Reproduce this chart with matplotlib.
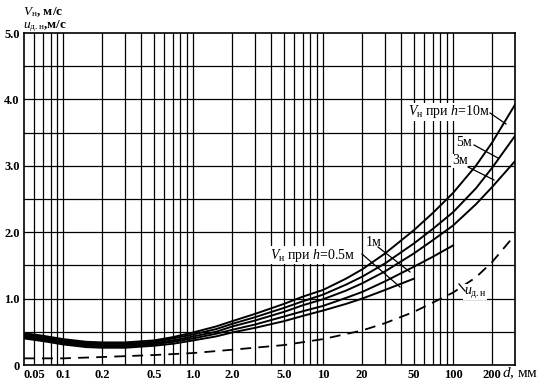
import matplotlib
matplotlib.use('Agg')
import matplotlib.pyplot as plt
import numpy as np

plt.rcParams['font.family'] = ['Liberation Serif', 'DejaVu Serif']
plt.rcParams['mathtext.fontset'] = 'custom'
plt.rcParams['mathtext.rm'] = 'Liberation Serif'
plt.rcParams['mathtext.it'] = 'Liberation Serif:italic'

# grain size d, mm
d = [0.05, 0.07, 0.1, 0.15, 0.2, 0.3, 0.5, 0.7, 1, 1.5, 2, 3, 5, 7, 10, 15, 20, 30, 50, 70, 100, 150, 200, 300]

# non-scouring velocity V_н for depths h
v_h10 = [0.48, 0.44, 0.39, 0.35, 0.34, 0.34, 0.37, 0.42, 0.49, 0.58, 0.66, 0.77, 0.92, 1.03, 1.13, 1.30, 1.44, 1.68, 2.03, 2.29, 2.59, 3.00, 3.35, 3.92]
v_h5 = [0.46, 0.42, 0.37, 0.33, 0.32, 0.32, 0.35, 0.40, 0.46, 0.54, 0.62, 0.72, 0.86, 0.96, 1.06, 1.21, 1.33, 1.53, 1.83, 2.05, 2.30, 2.66, 2.97, 3.45]
v_h3 = [0.44, 0.40, 0.35, 0.31, 0.30, 0.30, 0.33, 0.37, 0.43, 0.50, 0.58, 0.67, 0.80, 0.90, 0.99, 1.12, 1.23, 1.41, 1.68, 1.88, 2.10, 2.42, 2.68, 3.07]
v_h1 = [0.42, 0.38, 0.33, 0.29, 0.28, 0.28, 0.31, 0.35, 0.40, 0.47, 0.53, 0.61, 0.73, 0.81, 0.89, 1.01, 1.10, 1.26, 1.48, 1.63, 1.80]
v_h05 = [0.40, 0.36, 0.31, 0.27, 0.26, 0.26, 0.29, 0.32, 0.37, 0.43, 0.49, 0.56, 0.66, 0.74, 0.82, 0.92, 1.00, 1.13, 1.30]

# u_д.н
d_u = [0.05, 0.1, 0.2, 0.5, 1, 2, 5, 10, 20, 30, 50, 70, 100, 150, 200, 300]
u_dn = [0.10, 0.10, 0.12, 0.15, 0.18, 0.23, 0.30, 0.39, 0.52, 0.63, 0.80, 0.94, 1.09, 1.32, 1.55, 1.96]

xticks = [0.05, 0.1, 0.2, 0.5, 1, 2, 5, 10, 20, 50, 100, 200]
xlabels = ['0.05', '0.1', '0.2', '0.5', '1.0', '2.0', '5.0', '10', '20', '50', '100', '200']
yticks = [0, 1, 2, 3, 4, 5]
ylabels = ['0', '1.0', '2.0', '3.0', '4.0', '5.0']

fig = plt.figure(figsize=(5.47, 3.85), dpi=100)
ax = fig.add_axes([24/547, 20/385, 491/547, 332/385])
ax.set_xscale('log')
ax.set_xlim(0.05, 300)
ax.set_ylim(0, 5)

# grid
minor = [k * 10.0**e for e in range(-2, 3) for k in range(1, 10)]
minor = [m for m in minor if 0.05 < m < 300]
for m in minor:
    ax.axvline(m, color='black', lw=0.9, zorder=1)
for yv in np.arange(0.5, 5.0, 0.5):
    ax.axhline(yv, color='black', lw=0.9, zorder=1)

ax.set_xticks(xticks)
ax.set_xticklabels(xlabels, fontsize=9, fontweight='bold')
ax.xaxis.set_minor_locator(matplotlib.ticker.NullLocator())
ax.set_yticks(yticks)
ax.set_yticklabels(ylabels, fontsize=9, fontweight='bold')
ax.tick_params(length=0, pad=3)
ax.get_xticklabels()[0].set_horizontalalignment('left')
for s in ax.spines.values():
    s.set_linewidth(1.2)

lw = 1.4
ax.plot(d, v_h10, color='black', lw=lw, zorder=3)
ax.plot(d, v_h5, color='black', lw=lw, zorder=3)
ax.plot(d, v_h3, color='black', lw=lw, zorder=3)
ax.plot(d[:len(v_h1)], v_h1, color='black', lw=lw, zorder=3)
ax.plot(d[:len(v_h05)], v_h05, color='black', lw=lw, zorder=3)
ax.plot(d_u, u_dn, color='black', lw=1.3, ls=(0, (6, 4)), zorder=3)

def fx(px):
    return (px - 24) / 491.0

def fy(py):
    return (365 - py) / 332.0

tr = ax.transAxes
kw = dict(transform=tr, fontsize=10, zorder=5,
          bbox=dict(facecolor='white', edgecolor='none', pad=0.5))
ax.text(fx(408), fy(112), r'$V_{\rm н}$ при $h$=10м', va='center', ha='left', **kw)
ax.text(fx(456), fy(143), '5м', va='center', ha='left', **kw)
ax.text(fx(452), fy(161), '3м', va='center', ha='left', **kw)
ax.text(fx(270), fy(255), r'$V_{\rm н}$ при $h$=0.5м', va='center', ha='left', **kw)
ax.text(fx(366), fy(242), '1м', va='center', ha='left', **kw)
ax.text(fx(464), fy(292), r'$u_{\rm д.н}$', va='center', ha='left', **kw)

leaders = [((490, 113), (506, 124)), ((474, 145), (498, 158)),
           ((468, 167), (494, 180)), ((362, 254), (400, 287)),
           ((378, 247), (410, 272)), ((459, 284), (465, 291))]
for (x0, y0), (x1, y1) in leaders:
    ax.plot([fx(x0), fx(x1)], [fy(y0), fy(y1)], color='black', lw=0.9,
            transform=tr, zorder=6)

fig.text(23/547, 1 - 12/385, r'$V_{\rm н}$, м/с', fontsize=9.5, fontweight='bold',
         va='center', ha='left')
fig.text(23/547, 1 - 26/385, r'$u_{\rm д.н}$,м/с', fontsize=9.5, fontweight='bold',
         va='center', ha='left')
fig.text(502/547, 1 - 373/385, r'$d$, мм', fontsize=11, va='center', ha='left')

fig.savefig('out.png', dpi=100)
